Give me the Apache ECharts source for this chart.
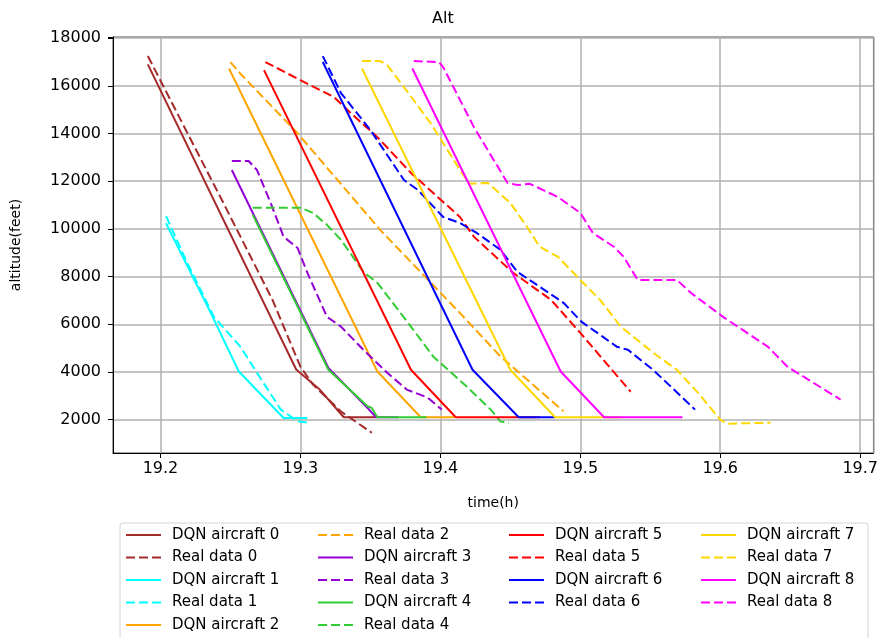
<!DOCTYPE html>
<html><head><meta charset="utf-8">
<script src="https://cdn.jsdelivr.net/npm/echarts@6/dist/echarts.min.js"></script>
<style>html,body{margin:0;padding:0;background:#fff}#c{width:881px;height:638px}</style>
</head><body><div id="c"></div>
<script>
// ---- data (time in hours, altitude in feet) ----
const dqn0T = [19.191, 19.297, 19.314, 19.331, 19.354];
const dqn0A = [16900, 4100, 3250, 2100, 2100];
const real0T = [19.191, 19.244, 19.280, 19.300, 19.309, 19.329, 19.351];
const real0A = [17250, 11200, 7030, 4220, 3470, 2340, 1450];

const dqn1T = [19.204, 19.236, 19.256, 19.288, 19.305];
const dqn1A = [10240, 6470, 4020, 2070, 2070];
const real1T = [19.204, 19.217, 19.238, 19.257, 19.269, 19.286, 19.298, 19.307];
const real1A = [10540, 8840, 6330, 5070, 3960, 2420, 1930, 1860];

const dqn2T = [19.249, 19.355, 19.386, 19.410];
const dqn2A = [16730, 4020, 2100, 2100];
const real2T = [19.250, 19.257, 19.298, 19.357, 19.414, 19.443, 19.488];
const real2A = [17000, 16520, 14010, 9960, 6470, 4650, 2350];

const dqn3T = [19.251, 19.320, 19.348, 19.354, 19.370];
const dqn3A = [12470, 4170, 2490, 2100, 2100];
const real3T = [19.251, 19.263, 19.269, 19.279, 19.288, 19.298, 19.305, 19.319, 19.329, 19.345, 19.362, 19.376, 19.391, 19.401];
const real3A = [12850, 12850, 12470, 11050, 9670, 9200, 8160, 6310, 5900, 4930, 3970, 3260, 2920, 2420];

const dqn4T = [19.266, 19.320, 19.348, 19.351, 19.355, 19.390];
const dqn4A = [10590, 4090, 2560, 2490, 2100, 2100];
const real4T = [19.266, 19.300, 19.309, 19.319, 19.329, 19.345, 19.355, 19.379, 19.395, 19.419, 19.436, 19.443, 19.449];
const real4A = [10890, 10890, 10670, 10170, 9540, 8200, 7740, 5900, 4640, 3380, 2420, 1920, 1870];

const dqn5T = [19.274, 19.379, 19.411, 19.471];
const dqn5A = [16660, 4090, 2100, 2100];
const real5T = [19.275, 19.300, 19.324, 19.336, 19.355, 19.379, 19.414, 19.424, 19.452, 19.479, 19.500, 19.536];
const real5A = [17000, 16240, 15530, 14860, 13850, 12350, 10500, 9670, 8160, 7030, 5640, 3170];

const dqn6T = [19.316, 19.423, 19.456, 19.482];
const dqn6A = [17000, 4090, 2100, 2100];
const real6T = [19.316, 19.329, 19.350, 19.374, 19.384, 19.402, 19.414, 19.426, 19.443, 19.455, 19.471, 19.488, 19.501, 19.516, 19.526, 19.534, 19.552, 19.582];
const real6A = [17250, 15700, 14150, 12050, 11630, 10500, 10250, 9830, 9120, 8200, 7570, 6900, 6100, 5480, 5060, 4930, 4090, 2420];

const dqn7T = [19.344, 19.450, 19.482, 19.530];
const dqn7A = [16730, 4090, 2100, 2100];
const real7T = [19.344, 19.357, 19.362, 19.374, 19.393, 19.414, 19.421, 19.434, 19.450, 19.462, 19.471, 19.484, 19.500, 19.514, 19.529, 19.552, 19.569, 19.584, 19.600, 19.605, 19.636];
const real7A = [17040, 17040, 16870, 15950, 14440, 12470, 11890, 11930, 11090, 10080, 9250, 8830, 7860, 7030, 5900, 4810, 4090, 3130, 2000, 1830, 1870];

const dqn8T = [19.380, 19.486, 19.517, 19.573];
const dqn8A = [16730, 4020, 2100, 2100];
const real8T = [19.381, 19.399, 19.402, 19.424, 19.448, 19.455, 19.464, 19.484, 19.500, 19.509, 19.524, 19.531, 19.541, 19.569, 19.579, 19.602, 19.634, 19.648, 19.686];
const real8A = [17040, 17000, 16790, 14270, 11930, 11840, 11890, 11340, 10670, 9830, 9250, 8830, 7860, 7860, 7320, 6310, 5060, 4220, 2840];

const xTickLabels = ['19.2', '19.3', '19.4', '19.5', '19.6', '19.7'];
const yTickLabels = ['2000', '4000', '6000', '8000', '10000', '12000', '14000', '16000', '18000'];

const colors = ['#a52a2a', '#00ffff', '#ffa500', '#9400d3', '#32cd32', '#ff0000', '#0000ff', '#ffd700', '#ff00ff'];

const dqnT = [dqn0T, dqn1T, dqn2T, dqn3T, dqn4T, dqn5T, dqn6T, dqn7T, dqn8T];
const dqnA = [dqn0A, dqn1A, dqn2A, dqn3A, dqn4A, dqn5A, dqn6A, dqn7A, dqn8A];
const realT = [real0T, real1T, real2T, real3T, real4T, real5T, real6T, real7T, real8T];
const realA = [real0A, real1A, real2A, real3A, real4A, real5A, real6A, real7A, real8A];

const FONT = 'DejaVu Sans';
const DASH = [9, 4];
const zip = (t, a) => t.map((v, i) => [v, a[i]]);

const series = [];
const legendNames = [];
for (let i = 0; i < 9; i++) {
  const dn = 'DQN aircraft ' + i, rn = 'Real data ' + i;
  legendNames.push(dn, rn);
  series.push({
    name: dn, type: 'line', data: zip(dqnT[i], dqnA[i]), symbol: 'none',
    lineStyle: { color: colors[i], width: 2, type: 'solid' }, itemStyle: { color: colors[i] }
  });
  series.push({
    name: rn, type: 'line', data: zip(realT[i], realA[i]), symbol: 'none',
    lineStyle: { color: colors[i], width: 2, type: DASH }, itemStyle: { color: colors[i] }
  });
}

const colLefts = [125, 317, 508, 700];
const cols = [legendNames.slice(0, 5), legendNames.slice(5, 10), legendNames.slice(10, 14), legendNames.slice(14, 18)];
const legends = cols.map((d, k) => ({
  data: d, orient: 'vertical', left: colLefts[k], top: 527,
  itemWidth: 35, itemHeight: 14, itemGap: 6.5, padding: 0,
  itemStyle: { color: 'transparent', borderColor: 'transparent', borderWidth: 0, opacity: 0 },
  textStyle: { fontFamily: FONT, fontSize: 15, color: '#000', lineHeight: 16, padding: [0, 0, 0, 6] }
}));

const isTick = (v, list, dec) => list.indexOf(v.toFixed(dec)) >= 0 && Math.abs(v - parseFloat(v.toFixed(dec))) < 1e-6;

const chart = echarts.init(document.getElementById('c'), null, { renderer: 'canvas' });
chart.setOption({
  animation: false,
  backgroundColor: '#fff',
  title: { text: 'Alt', left: 427, top: 6, textStyle: { fontFamily: FONT, fontSize: 16, fontWeight: 'normal', color: '#000' } },
  graphic: [{ type: 'rect', shape: { x: 120, y: 523, width: 748, height: 140, r: 3 }, style: { fill: 'none', stroke: '#d4d4d4', lineWidth: 1 }, z: -1 }],
  legend: legends,
  grid: { left: 113, right: 6, top: 37, bottom: 185, show: true, borderColor: '#000', borderWidth: 1, containLabel: false },
  xAxis: {
    type: 'value', min: 19.1661, max: 19.7095, splitNumber: 5,
    name: 'time(h)', nameLocation: 'middle', nameGap: 43,
    nameTextStyle: { fontFamily: FONT, fontSize: 14, color: '#000' },
    axisLine: { show: true, onZero: false, lineStyle: { color: '#000', width: 1 } },
    axisTick: { show: true, inside: false, length: 5, lineStyle: { color: '#000' } },
    axisLabel: { fontFamily: FONT, fontSize: 16, color: '#000', margin: 8, showMinLabel: false, showMaxLabel: false,
      formatter: v => isTick(v, xTickLabels, 1) ? v.toFixed(1) : '' },
    splitLine: { show: true, lineStyle: { color: '#b0b0b0', width: 1.5 } }
  },
  yAxis: {
    type: 'value', min: 600, max: 18050, splitNumber: 9,
    name: 'altitude(feet)', nameLocation: 'middle', nameGap: 90,
    nameTextStyle: { fontFamily: FONT, fontSize: 14, color: '#000' },
    axisLine: { show: true, onZero: false, lineStyle: { color: '#000', width: 1 } },
    axisTick: { show: true, inside: false, length: 5, lineStyle: { color: '#000' } },
    axisLabel: { fontFamily: FONT, fontSize: 16, color: '#000', margin: 12, showMinLabel: false,
      formatter: v => isTick(v, yTickLabels, 0) ? String(Math.round(v)) : '' },
    splitLine: { show: true, lineStyle: { color: '#b0b0b0', width: 1.5 } }
  },
  series: series
});
</script>
</body></html>
